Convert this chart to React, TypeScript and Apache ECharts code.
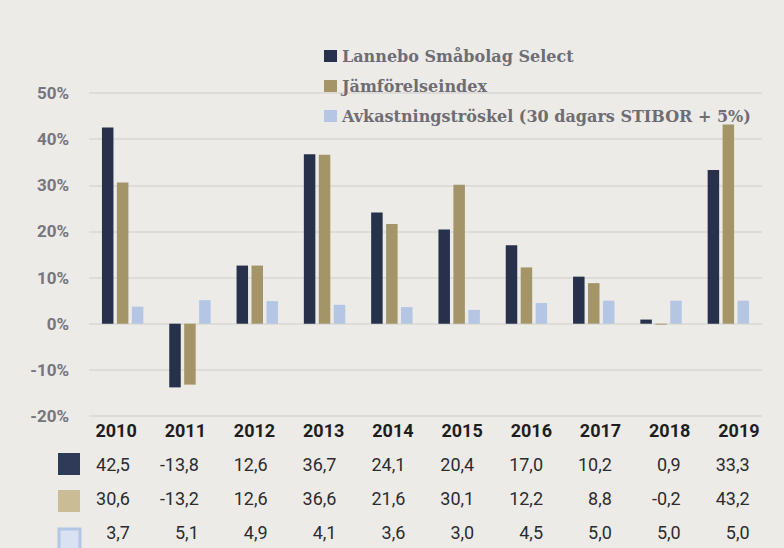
import React, { useEffect, useRef } from 'react';
import * as echarts from 'echarts';

const years = ['2010', '2011', '2012', '2013', '2014', '2015', '2016', '2017', '2018', '2019'];
const lanneboSelect = [42.5, -13.8, 12.6, 36.7, 24.1, 20.4, 17.0, 10.2, 0.9, 33.3];
const benchmark = [30.6, -13.2, 12.6, 36.6, 21.6, 30.1, 12.2, 8.8, -0.2, 43.2];
const hurdle = [3.7, 5.1, 4.9, 4.1, 3.6, 3.0, 4.5, 5.0, 5.0, 5.0];
const seriesNames = ['Lannebo Småbolag Select', 'Jämförelseindex', 'Avkastningströskel (30 dagars STIBOR + 5%)'];
const yMin = -20;
const yMax = 50;
const yStep = 10;

const barColors = ['#27314B', '#A49568', '#B4C6E4'];
const swatchFill = ['#2E3A58', '#CABD96', '#D8E2F2'];

const fmt = (v: number) => v.toFixed(1).replace('.', ',');

export default function App() {
  const ref = useRef<HTMLDivElement>(null);
  useEffect(() => {
    if (!ref.current) return;
    const chart = echarts.init(ref.current, undefined, { renderer: 'svg' });
    const rows = [lanneboSelect, benchmark, hurdle];
    const rowOffsets = [35, 69, 103];
    const font = 'Roboto, sans-serif';
    chart.setOption({
      animation: false,
      backgroundColor: '#ECEBE8',
      legend: {
        data: seriesNames,
        orient: 'vertical',
        left: 319,
        top: 42,
        itemWidth: 13,
        itemHeight: 12,
        itemGap: 12,
        icon: 'rect',
        textStyle: {
          color: '#6E6D74',
          fontWeight: 'bold',
          fontSize: 16,
          fontFamily: "'DejaVu Serif', serif",
          lineHeight: 18,
        },
      },
      grid: [
        { left: 89, right: 22, top: 93, bottom: 132 },
        { left: 81.5, width: 692, top: 415, height: 1 },
        { left: 95.5, width: 692, top: 415, height: 1 },
      ],
      xAxis: [
        { type: 'category', gridIndex: 0, data: years, show: false },
        {
          type: 'category',
          gridIndex: 1,
          data: years,
          position: 'bottom',
          axisLine: { show: false },
          axisTick: { show: false },
          axisLabel: { margin: 5, color: '#1E1E20', fontWeight: 'bold', fontSize: 18, fontFamily: font },
        },
        ...rows.map((row, r) => ({
          type: 'category',
          gridIndex: 2,
          data: years,
          position: 'bottom',
          offset: rowOffsets[r],
          axisLine: { show: false },
          axisTick: { show: false },
          axisLabel: {
            margin: 4,
            align: 'right',
            color: '#2C2C30',
            fontSize: 18,
            fontFamily: font,
            formatter: (_v: string, i: number) => fmt(row[i]),
          },
        })),
      ],
      yAxis: [
        {
          type: 'value',
          gridIndex: 0,
          min: yMin,
          max: yMax,
          interval: yStep,
          axisLine: { show: false },
          axisTick: { show: false },
          axisLabel: {
            formatter: '{value}%',
            margin: 20,
            color: '#77767B',
            fontWeight: 'bold',
            fontSize: 17,
            fontFamily: font,
          },
          splitLine: { lineStyle: { color: '#DDDCD9', width: 2 } },
        },
        { type: 'value', gridIndex: 1, min: 0, max: 1, show: false },
        { type: 'value', gridIndex: 2, min: 0, max: 1, show: false },
      ],
      series: [lanneboSelect, benchmark, hurdle].map((d, i) => ({
        type: 'bar',
        name: seriesNames[i],
        xAxisIndex: 0,
        yAxisIndex: 0,
        data: d,
        barWidth: 11.5,
        barGap: '30%',
        itemStyle: { color: barColors[i] },
      })),
      graphic: [
        { type: 'rect', shape: { x: 58, y: 453, width: 22, height: 22 }, style: { fill: swatchFill[0] } },
        { type: 'rect', shape: { x: 58, y: 490, width: 22, height: 22 }, style: { fill: swatchFill[1] } },
        {
          type: 'rect',
          shape: { x: 59, y: 529, width: 21, height: 21 },
          style: { fill: swatchFill[2], stroke: barColors[2], lineWidth: 3 },
        },
      ],
    });
    return () => chart.dispose();
  }, []);
  return <div ref={ref} style={{ position: 'absolute', left: 0, top: 0, width: 784, height: 548 }} />;
}
